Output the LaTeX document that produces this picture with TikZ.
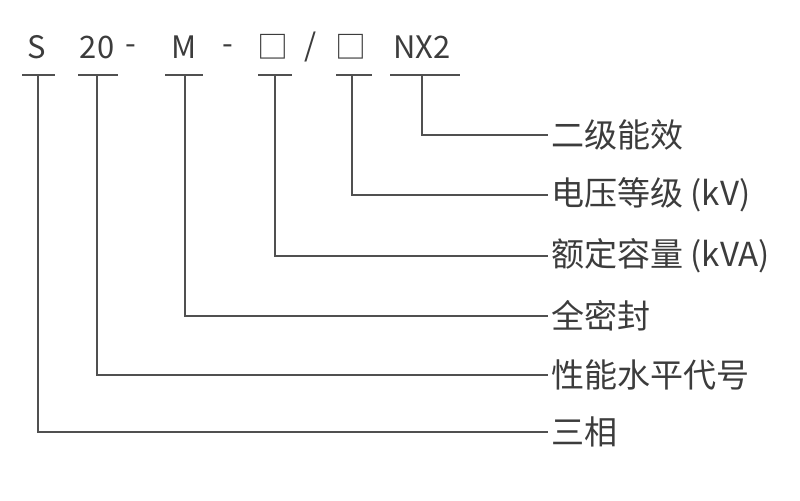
\documentclass[tikz,border=0pt]{standalone}
\usepackage{fontspec}
\setmainfont{Noto Sans CJK SC}
\usetikzlibrary{positioning}
\definecolor{cd_text}{RGB}{60,60,60}
\definecolor{cd_line}{RGB}{80,80,80}
\tikzset{
  code/.style={text=cd_text,font=\fontsize{22}{26}\selectfont,anchor=center},
  meaning/.style={text=cd_text,font=\fontsize{23.5}{28}\selectfont,anchor=west,inner xsep=2pt},
  lead/.style={draw=cd_line,line width=0.9pt}
}
\begin{document}
\begin{tikzpicture}[x=0.025cm,y=-0.025cm]
\useasboundingbox (0,0) rectangle (800,500);

% ------------------------------------------------ code letters
\node[code] (cS)   at (37,47)  {S};
\node[code] (c20)  at (97,47)  {20};
\node[code] (d1)   at (131,50) {-};
\node[code] (cM)   at (184,47) {M};
\node[code] (d2)   at (228,50) {-};
\node[code] (cKVA) at (273,47) {□};
\node[code] (sl)   at (311,47) {/};
\node[code] (cKV)  at (351,47) {□};
\node[code] (cNX)  at (422,47) {NX2};

% ------------------------------------------------ underlines
\draw[lead] (22,75) -- (55,75);
\draw[lead] (78,75) -- (118,75);
\draw[lead] (165,75) -- (203,75);
\draw[lead] (258,75) -- (292,75);
\draw[lead] (336,75) -- (372,75);
\draw[lead] (390,75) -- (460,75);

% ------------------------------------------------ meanings
\node[meaning] (mNX)  at (548,135) {二级能效};
\node[meaning] (mKV)  at (548,195) {电压等级 (kV)};
\node[meaning] (mKVA) at (548,256) {额定容量 (kVA)};
\node[meaning] (mM)   at (548,316) {全密封};
\node[meaning] (m20)  at (548,375) {性能水平代号};
\node[meaning] (mS)   at (548,432) {三相};

% ------------------------------------------------ leads
\draw[lead] (422,75) |- (mNX.west);
\draw[lead] (352,75) |- (mKV.west);
\draw[lead] (275,75) |- (mKVA.west);
\draw[lead] (185,75) |- (mM.west);
\draw[lead] (97,75)  |- (m20.west);
\draw[lead] (38,75)  |- (mS.west);

\end{tikzpicture}
\end{document}
